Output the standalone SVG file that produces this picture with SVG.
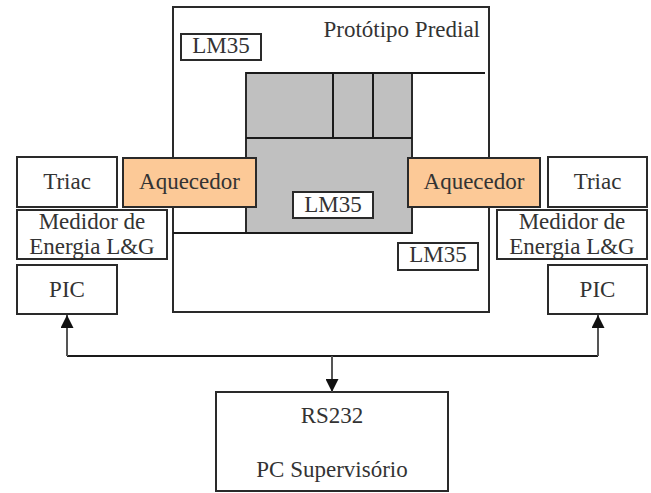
<svg xmlns="http://www.w3.org/2000/svg" width="651" height="493" viewBox="0 0 651 493" font-family="'Liberation Serif', 'DejaVu Serif', serif">
  <style>
    .box { fill: #ffffff; stroke: #2a2a2a; stroke-width: 2; }
    .heat { fill: #fcc997; stroke: #2a2a2a; stroke-width: 2; }
    .wall { fill: #c0c0c0; stroke: #2a2a2a; stroke-width: 2; }
    .ln { fill: none; stroke: #1a1a1a; stroke-width: 2; }
    .wire { fill: none; stroke: #1a1a1a; stroke-width: 2; }
    .wire-v { fill: none; stroke: #555555; stroke-width: 2; }
    .lbl { font-family: "Liberation Serif", "DejaVu Serif", serif; font-size: 23px; fill: #333333; text-anchor: middle; }
    .end { text-anchor: end; }
  </style>
  <defs>
    <marker id="head" viewBox="0 0 10 10" refX="10" refY="5" markerWidth="13" markerHeight="13" markerUnits="userSpaceOnUse" orient="auto">
      <path d="M0,0 L10,5 L0,10 Z" fill="#111111"/>
    </marker>
  </defs>
  <rect width="651" height="493" fill="#ffffff"/>

  <!-- building prototype enclosure -->
  <g id="prototipo">
    <rect class="box" x="173" y="7" width="316" height="305"/>
    <text class="lbl end" x="480" y="37">Protótipo Predial</text>
  </g>

  <!-- interior rooms -->
  <g id="ambientes">
    <rect class="wall" x="246" y="73" width="166" height="160"/>
    <line class="ln" x1="246" y1="138" x2="412" y2="138"/>
    <line class="ln" x1="333" y1="73" x2="333" y2="138"/>
    <line class="ln" x1="373" y1="73" x2="373" y2="138"/>
    <line class="ln" x1="246" y1="73" x2="485" y2="73" stroke-width="2.5"/>
    <line class="ln" x1="173" y1="233" x2="412" y2="233"/>
  </g>

  <g id="lm35-topo">
    <rect class="box" x="181" y="34" width="80" height="26"/>
    <text class="lbl" x="221" y="53">LM35</text>
  </g>
  <g id="lm35-centro">
    <rect class="box" x="293" y="192" width="80" height="26"/>
    <text class="lbl" x="333" y="212">LM35</text>
  </g>
  <g id="lm35-baixo">
    <rect class="box" x="398" y="243" width="80" height="27"/>
    <text class="lbl" x="438" y="262">LM35</text>
  </g>

  <g id="aquecedor-esq">
    <rect class="heat" x="123" y="158" width="133" height="49"/>
    <text class="lbl" x="189.5" y="189">Aquecedor</text>
  </g>
  <g id="aquecedor-dir">
    <rect class="heat" x="408" y="158" width="132" height="49"/>
    <text class="lbl" x="474" y="189">Aquecedor</text>
  </g>

  <!-- left control stack -->
  <g id="triac-esq">
    <rect class="box" x="17" y="157" width="100" height="50"/>
    <text class="lbl" x="67" y="189">Triac</text>
  </g>
  <g id="medidor-esq">
    <rect class="box" x="17" y="210" width="150" height="49"/>
    <text class="lbl" x="92" y="229">Medidor de</text>
    <text class="lbl" x="92" y="254">Energia L&amp;G</text>
  </g>
  <g id="pic-esq">
    <rect class="box" x="17" y="265" width="100" height="49"/>
    <text class="lbl" x="67" y="297">PIC</text>
  </g>

  <!-- right control stack -->
  <g id="triac-dir">
    <rect class="box" x="548" y="157" width="99" height="50"/>
    <text class="lbl" x="597.5" y="189">Triac</text>
  </g>
  <g id="medidor-dir">
    <rect class="box" x="497" y="210" width="150" height="49"/>
    <text class="lbl" x="572" y="229">Medidor de</text>
    <text class="lbl" x="572" y="254">Energia L&amp;G</text>
  </g>
  <g id="pic-dir">
    <rect class="box" x="548" y="265" width="99" height="49"/>
    <text class="lbl" x="597.5" y="297">PIC</text>
  </g>

  <!-- supervisory PC -->
  <g id="pc">
    <rect class="box" x="216" y="392" width="232" height="99"/>
    <text class="lbl" x="332" y="423">RS232</text>
    <text class="lbl" x="332" y="477">PC Supervisório</text>
  </g>

  <!-- serial bus -->
  <g id="conexoes">
    <line class="wire" x1="67" y1="356" x2="598" y2="356"/>
    <line class="wire-v" x1="67" y1="356" x2="67" y2="315" marker-end="url(#head)"/>
    <line class="wire-v" x1="598" y1="356" x2="598" y2="315" marker-end="url(#head)"/>
    <line class="wire-v" x1="332" y1="356" x2="332" y2="392" marker-end="url(#head)"/>
  </g>
</svg>
